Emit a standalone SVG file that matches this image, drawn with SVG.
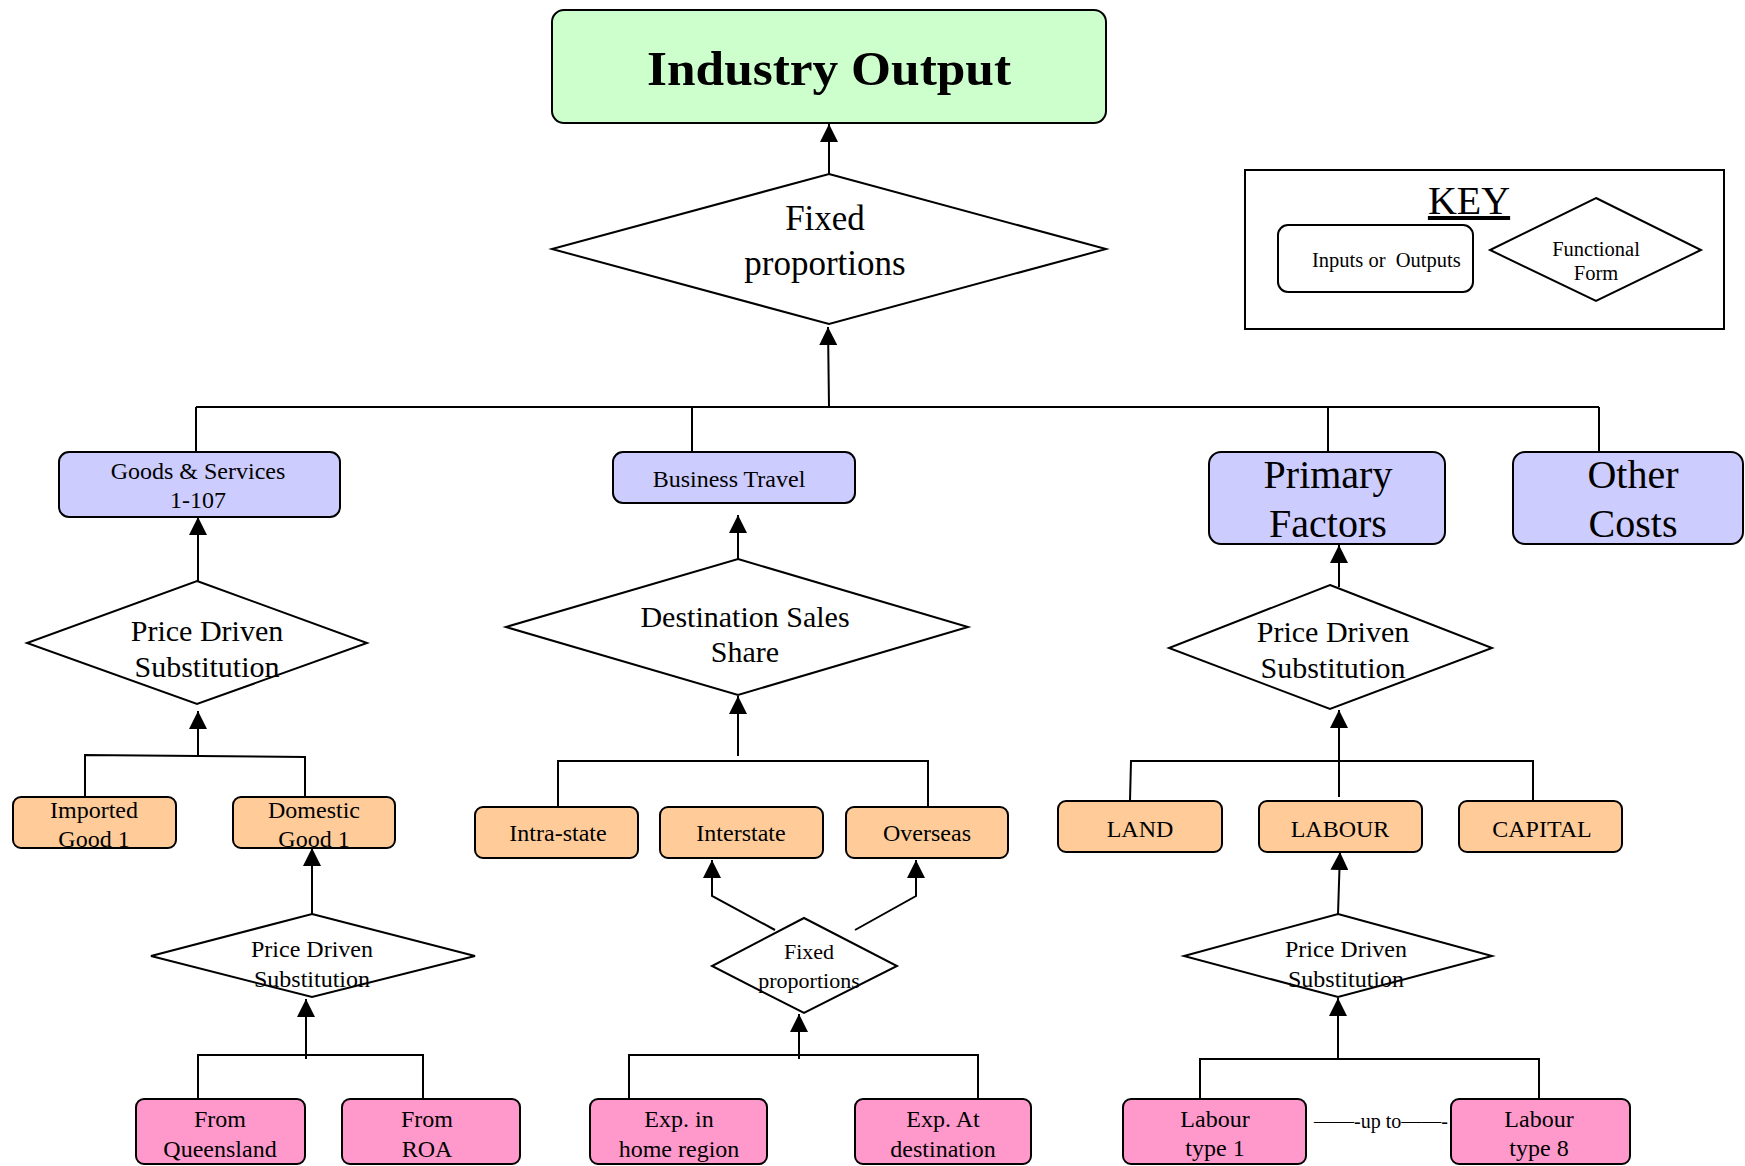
<svg xmlns="http://www.w3.org/2000/svg" width="1745" height="1166" viewBox="0 0 1745 1166">
<style>
text{font-family:"Liberation Serif","Times New Roman",serif;fill:#000;text-anchor:middle}
.box{stroke:#000;stroke-width:2}
.out{fill:#ccffcc}
.blue{fill:#ccccff}
.orange{fill:#ffcc99}
.pink{fill:#ff99cc}
.dia{fill:#fff;stroke:#000;stroke-width:2}
.ln{fill:none;stroke:#000;stroke-width:2}
.arr{fill:none;stroke:#000;stroke-width:2;marker-end:url(#ah)}
.t24{font-size:24px}
.t30{font-size:30px}
.t40{font-size:40px}
</style>
<defs>
<marker id="ah" viewBox="0 0 18 18" refX="18" refY="9" markerWidth="18" markerHeight="18" markerUnits="userSpaceOnUse" orient="auto">
<path d="M0,0 L18,9 L0,18 z" fill="#000"/>
</marker>
</defs>

<g id="connectors">
<line class="arr" x1="829" y1="174" x2="829" y2="124"/>
<line class="arr" x1="829" y1="407" x2="828" y2="327"/>
<line class="ln" x1="196" y1="407" x2="1599" y2="407"/>
<line class="ln" x1="196" y1="407" x2="196" y2="452"/>
<line class="ln" x1="692" y1="407" x2="692" y2="452"/>
<line class="ln" x1="1328" y1="407" x2="1328" y2="452"/>
<line class="ln" x1="1599" y1="407" x2="1599" y2="452"/>

<line class="arr" x1="198" y1="582" x2="198" y2="517"/>
<line class="arr" x1="198" y1="755" x2="198" y2="711"/>
<polyline class="ln" points="85,797 85,755 305,757 305,797"/>
<line class="arr" x1="312" y1="914" x2="312" y2="848"/>
<line class="arr" x1="306" y1="1059" x2="306" y2="999"/>
<polyline class="ln" points="198,1099 198,1055 423,1055 423,1099"/>

<line class="arr" x1="738" y1="559" x2="738" y2="515"/>
<line class="arr" x1="738" y1="756" x2="738" y2="696"/>
<polyline class="ln" points="558,807 558,761 928,761 928,807"/>
<polyline class="arr" points="775,930 712,896 712,860"/>
<polyline class="arr" points="855,930 916,896 916,860"/>
<line class="arr" x1="799" y1="1059" x2="799" y2="1014"/>
<polyline class="ln" points="629,1099 629,1055 978,1055 978,1099"/>

<line class="arr" x1="1339" y1="587" x2="1339" y2="545"/>
<line class="arr" x1="1339" y1="797" x2="1339" y2="710"/>
<polyline class="ln" points="1130,801 1131,761 1533,761 1533,801"/>
<line class="arr" x1="1338" y1="914" x2="1340" y2="852"/>
<line class="arr" x1="1338" y1="1059" x2="1338" y2="998"/>
<polyline class="ln" points="1200,1099 1200,1059 1539,1059 1539,1099"/>
</g>

<g id="industry-output">
<rect class="box out" x="552" y="10" width="554" height="113" rx="12"/>
<text x="829" y="85" font-size="48" font-weight="bold" textLength="364" lengthAdjust="spacingAndGlyphs">Industry Output</text>
</g>

<g id="fixed-proportions-top">
<polygon class="dia" points="829,174 1106,249 829,324 552,249"/>
<text x="825" y="230" font-size="35">Fixed</text>
<text x="825" y="275" font-size="35">proportions</text>
</g>

<g id="key">
<rect x="1245" y="170" width="479" height="159" fill="none" stroke="#000" stroke-width="2"/>
<text x="1469" y="214" font-size="40" text-decoration="underline">KEY</text>
<rect class="box" x="1278" y="225" width="195" height="67" rx="10" fill="#fff"/>
<text x="1312" y="267" font-size="20.5" style="text-anchor:start" xml:space="preserve">Inputs or  Outputs</text>
<polygon class="dia" points="1596,198 1701,250 1596,301 1490,250"/>
<text x="1596" y="256" font-size="20.5">Functional</text>
<text x="1596" y="280" font-size="20.5">Form</text>
</g>

<g id="goods-services">
<rect class="box blue" x="59" y="452" width="281" height="65" rx="10"/>
<text class="t24" x="198" y="479">Goods &amp; Services</text>
<text class="t24" x="198" y="508">1-107</text>
</g>

<g id="business-travel">
<rect class="box blue" x="613" y="452" width="242" height="51" rx="10"/>
<text class="t24" x="729" y="487">Business Travel</text>
</g>

<g id="primary-factors">
<rect class="box blue" x="1209" y="452" width="236" height="92" rx="12"/>
<text class="t40" x="1328" y="488">Primary</text>
<text class="t40" x="1328" y="537">Factors</text>
</g>

<g id="other-costs">
<rect class="box blue" x="1513" y="452" width="230" height="92" rx="12"/>
<text class="t40" x="1633" y="488">Other</text>
<text class="t40" x="1633" y="537">Costs</text>
</g>

<g id="pds-goods">
<polygon class="dia" points="197,581 367,643 197,704 27,643"/>
<text class="t30" x="207" y="641">Price Driven</text>
<text class="t30" x="207" y="677">Substitution</text>
</g>

<g id="destination-sales-share">
<polygon class="dia" points="738,559 968,627 738,695 506,627"/>
<text class="t30" x="745" y="627">Destination Sales</text>
<text class="t30" x="745" y="662">Share</text>
</g>

<g id="pds-primary">
<polygon class="dia" points="1330,585 1492,648 1330,709 1169,648"/>
<text class="t30" x="1333" y="642">Price Driven</text>
<text class="t30" x="1333" y="678">Substitution</text>
</g>

<g id="imported-good">
<rect class="box orange" x="13" y="797" width="163" height="51" rx="8"/>
<text class="t24" x="94" y="818">Imported</text>
<text class="t24" x="94" y="847">Good 1</text>
</g>

<g id="domestic-good">
<rect class="box orange" x="233" y="797" width="162" height="51" rx="8"/>
<text class="t24" x="314" y="818">Domestic</text>
<text class="t24" x="314" y="847">Good 1</text>
</g>

<g id="intra-state">
<rect class="box orange" x="475" y="807" width="163" height="51" rx="8"/>
<text class="t24" x="558" y="841">Intra-state</text>
</g>

<g id="interstate">
<rect class="box orange" x="660" y="807" width="163" height="51" rx="8"/>
<text class="t24" x="741" y="841">Interstate</text>
</g>

<g id="overseas">
<rect class="box orange" x="846" y="807" width="162" height="51" rx="8"/>
<text class="t24" x="927" y="841">Overseas</text>
</g>

<g id="land">
<rect class="box orange" x="1058" y="801" width="164" height="51" rx="8"/>
<text class="t24" x="1140" y="837">LAND</text>
</g>

<g id="labour">
<rect class="box orange" x="1259" y="801" width="163" height="51" rx="8"/>
<text class="t24" x="1340" y="837">LABOUR</text>
</g>

<g id="capital">
<rect class="box orange" x="1459" y="801" width="163" height="51" rx="8"/>
<text class="t24" x="1542" y="837">CAPITAL</text>
</g>

<g id="pds-domestic">
<polygon class="dia" points="312,914 475,956 312,997 151,956"/>
<text class="t24" x="312" y="957">Price Driven</text>
<text class="t24" x="312" y="987">Substitution</text>
</g>

<g id="fixed-proportions-travel">
<polygon class="dia" points="804,918 897,966 804,1013 712,966"/>
<text x="809" y="959" font-size="22">Fixed</text>
<text x="809" y="988" font-size="22">proportions</text>
</g>

<g id="pds-labour">
<polygon class="dia" points="1338,914 1492,956 1338,997 1184,956"/>
<text class="t24" x="1346" y="957">Price Driven</text>
<text class="t24" x="1346" y="987">Substitution</text>
</g>

<g id="from-queensland">
<rect class="box pink" x="136" y="1099" width="169" height="65" rx="8"/>
<text class="t24" x="220" y="1127">From</text>
<text class="t24" x="220" y="1157">Queensland</text>
</g>

<g id="from-roa">
<rect class="box pink" x="342" y="1099" width="178" height="65" rx="8"/>
<text class="t24" x="427" y="1127">From</text>
<text class="t24" x="427" y="1157">ROA</text>
</g>

<g id="exp-home">
<rect class="box pink" x="590" y="1099" width="177" height="65" rx="8"/>
<text class="t24" x="679" y="1127">Exp. in</text>
<text class="t24" x="679" y="1157">home region</text>
</g>

<g id="exp-destination">
<rect class="box pink" x="855" y="1099" width="176" height="65" rx="8"/>
<text class="t24" x="943" y="1127">Exp. At</text>
<text class="t24" x="943" y="1157">destination</text>
</g>

<g id="labour-type-1">
<rect class="box pink" x="1123" y="1099" width="183" height="65" rx="8"/>
<text class="t24" x="1215" y="1127">Labour</text>
<text class="t24" x="1215" y="1156">type 1</text>
</g>

<g id="labour-type-8">
<rect class="box pink" x="1451" y="1099" width="179" height="65" rx="8"/>
<text class="t24" x="1539" y="1127">Labour</text>
<text class="t24" x="1539" y="1156">type 8</text>
</g>

<g id="up-to">
<text x="1381" y="1128" font-size="20">——-up to——-</text>
</g>
</svg>
